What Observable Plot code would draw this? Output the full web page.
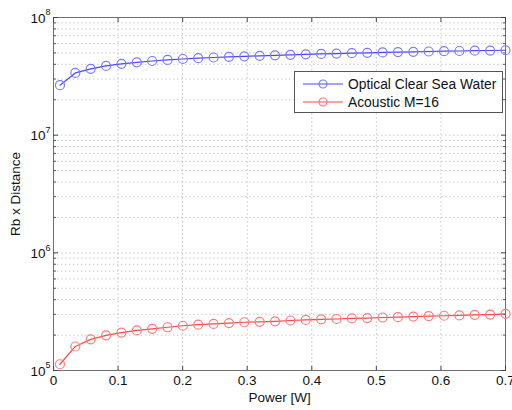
<!DOCTYPE html>
<html>
<head>
<meta charset="utf-8">
<script src="https://cdn.jsdelivr.net/npm/d3@7"></script>
<script src="https://cdn.jsdelivr.net/npm/@observablehq/plot@0.6"></script>
<style>
  body { margin: 0; background: #fff; font-family: "Liberation Sans", Arial, sans-serif; }
  #wrap { position: relative; width: 512px; height: 410px; }
  #wrap svg text { font-size: 13.5px; }
  #legend { position: absolute; left: 294px; top: 71px; width: 207px; height: 40px;
    border: 1px solid #555; background: #fff; font-size: 13.8px; color: #111; }
  .row { position: absolute; left: 0; height: 18px; display: flex; align-items: center; }
  .row svg { margin-left: 8px; margin-right: 5px; }
</style>
</head>
<body>
<div id="wrap"></div>
<script>
// x values: Power [W]
const power = [0.01, 0.0338, 0.0576, 0.0814, 0.1052, 0.1290, 0.1528, 0.1766, 0.2003, 0.2241,
  0.2479, 0.2717, 0.2955, 0.3193, 0.3431, 0.3669, 0.3907, 0.4145, 0.4383, 0.4621,
  0.4859, 0.5097, 0.5334, 0.5572, 0.5810, 0.6048, 0.6286, 0.6524, 0.6762, 0.7];
// Optical Clear Sea Water (Rb x Distance)
const optical = [2.66e7, 3.38e7, 3.66e7, 3.88e7, 4.04e7, 4.16e7, 4.27e7, 4.36e7, 4.44e7, 4.51e7,
  4.57e7, 4.63e7, 4.68e7, 4.72e7, 4.77e7, 4.82e7, 4.86e7, 4.90e7, 4.94e7, 4.98e7,
  5.01e7, 5.05e7, 5.08e7, 5.11e7, 5.14e7, 5.17e7, 5.19e7, 5.22e7, 5.24e7, 5.27e7];
// Acoustic M=16
const acoustic = [1.13e5, 1.60e5, 1.84e5, 1.99e5, 2.10e5, 2.19e5, 2.26e5, 2.33e5, 2.40e5, 2.45e5,
  2.49e5, 2.53e5, 2.57e5, 2.59e5, 2.62e5, 2.66e5, 2.69e5, 2.72e5, 2.74e5, 2.77e5,
  2.79e5, 2.82e5, 2.84e5, 2.87e5, 2.90e5, 2.92e5, 2.94e5, 2.97e5, 2.99e5, 3.03e5];

const seriesNames = ["Optical Clear Sea Water", "Acoustic M=16"];
const lineColors = ["#4747ff", "#ff4747"];
const markColors = ["#7a7aff", "#ff7a7a"];

const xTicks = [0, 0.1, 0.2, 0.3, 0.4, 0.5, 0.6, 0.7];
const xTickLabels = ["0", "0.1", "0.2", "0.3", "0.4", "0.5", "0.6", "0.7"];
const decades = [1e5, 1e6, 1e7, 1e8];
const mantissas = [2, 3, 4, 5, 6, 7, 8, 9];
const minorTicks = [];
for (const d of decades.slice(0, 3)) for (const m of mantissas) minorTicks.push(d * m);

const rows = [];
power.forEach((p, i) => {
  rows.push({x: p, y: optical[i], s: seriesNames[0]});
  rows.push({x: p, y: acoustic[i], s: seriesNames[1]});
});

const fam = "'Liberation Sans', Arial, sans-serif";
const plot = Plot.plot({
  width: 512, height: 410,
  marginLeft: 53, marginRight: 7, marginTop: 17, marginBottom: 40,
  style: {fontFamily: fam, fontSize: "13.5px", color: "#111", background: "#fff"},
  x: {domain: [0, 0.7]},
  y: {type: "log", domain: [1e5, 1e8]},
  color: {domain: seriesNames, range: lineColors},
  marks: [
    Plot.gridX(xTicks.slice(1, -1), {stroke: "#c4c4c4", strokeOpacity: 1, strokeDasharray: "1.5,2.5"}),
    Plot.gridY(minorTicks.concat(decades.slice(1, 3)), {stroke: "#cacaca", strokeOpacity: 1, strokeDasharray: "1.5,2.5"}),
    Plot.frame({stroke: "#6e6e6e"}),
    // inner ticks
    Plot.axisX({ticks: xTicks, anchor: "bottom", tickSize: -4, tickFormat: () => "", stroke: "#444", label: null}),
    Plot.axisX({ticks: xTicks, anchor: "top", tickSize: -4, tickFormat: () => "", stroke: "#444", label: null}),
    Plot.axisY({ticks: decades, anchor: "left", tickSize: -5, tickFormat: () => "", stroke: "#444", label: null}),
    Plot.axisY({ticks: decades, anchor: "right", tickSize: -5, tickFormat: () => "", stroke: "#444", label: null}),
    Plot.axisY({ticks: minorTicks, anchor: "left", tickSize: -3, tickFormat: () => "", stroke: "#555", label: null}),
    Plot.axisY({ticks: minorTicks, anchor: "right", tickSize: -3, tickFormat: () => "", stroke: "#555", label: null}),
    // tick labels
    Plot.axisX({ticks: xTicks, anchor: "bottom", tickSize: 0, tickPadding: 5,
      tickFormat: (d, i) => xTickLabels[i], fill: "#111",
      label: "Power [W]", labelAnchor: "center", labelArrow: "none", labelOffset: 31}),
    Plot.axisY({ticks: [], anchor: "left", label: "Rb x Distance", labelAnchor: "center", labelArrow: "none", labelOffset: 43}),
    Plot.text(decades, {y: d => d, frameAnchor: "left", text: () => "10", textAnchor: "end", dx: -8, dy: 1, fill: "#111"}),
    Plot.text(decades, {y: d => d, frameAnchor: "left", text: d => String(Math.round(Math.log10(d))), textAnchor: "start", dx: -8, dy: -5, fill: "#111"}),
    // data
    Plot.line(rows, {x: "x", y: "y", z: "s", stroke: "s", strokeWidth: 1.2}),
    Plot.dot(rows, {x: "x", y: "y", r: 4.5, stroke: d => markColors[seriesNames.indexOf(d.s)], strokeWidth: 1.2, fill: "none"})
  ]
});

const wrap = document.getElementById("wrap");
wrap.appendChild(plot);
// exponent labels smaller than the rest
plot.querySelectorAll("text").forEach(t => {
  if (/^[5678]$/.test(t.textContent)) t.style.fontSize = "9px";
});

const legend = document.createElement("div");
legend.id = "legend";
seriesNames.forEach((name, i) => {
  const row = document.createElement("div");
  row.className = "row";
  row.style.top = (3 + i * 18) + "px";
  row.innerHTML = `<svg width="40" height="12"><line x1="0" y1="6" x2="40" y2="6" stroke="${lineColors[i]}" stroke-width="1.2"/><circle cx="20" cy="6" r="4" fill="none" stroke="${markColors[i]}" stroke-width="1.2"/></svg><span>${name}</span>`;
  legend.appendChild(row);
});
wrap.appendChild(legend);
</script>
</body>
</html>
